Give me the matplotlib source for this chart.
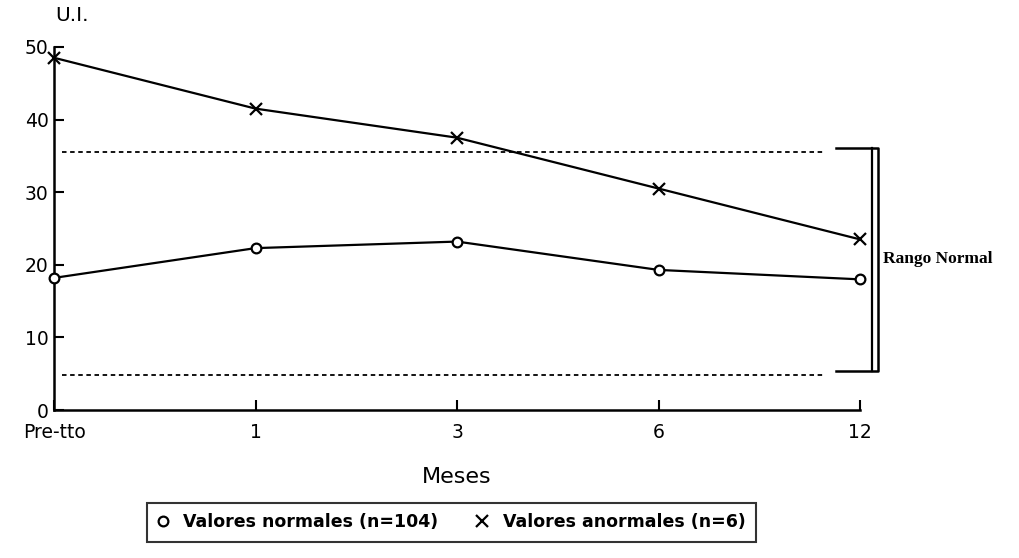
import matplotlib.pyplot as plt

# Data
meses = ["Pre-tto", "1", "3", "6", "12"]
normales = [18.2, 22.3, 23.2, 19.3, 18.0]
anormales = [48.5, 41.5, 37.5, 30.5, 23.5]
rango_bajo = 4.8
rango_alto = 35.5
yticks = [0, 10, 20, 30, 40, 50]

fig = plt.figure(figsize=(10.19, 5.58), dpi=100)
ax = fig.add_axes([0.053, 0.265, 0.791, 0.651])

x = list(range(len(meses)))
ax.plot(x, normales, color="black", lw=1.6, marker="o", ms=7,
        mfc="white", mec="black", mew=1.6, clip_on=False, zorder=3,
        label="Valores normales (n=104)")
ax.plot(x, anormales, color="black", lw=1.6, marker="x", ms=8,
        mew=1.6, clip_on=False, zorder=3,
        label="Valores anormales (n=6)")

# normal range (dashed lines)
ax.hlines([rango_alto, rango_bajo], 0.04, 3.82, colors="black",
          linestyles=(0, (2.5, 2.0)), lw=1.3)

# bracket "Rango Normal"
bx0, bx1 = 3.88, 4.09
ax.plot([bx0, bx1, bx1, bx0], [rango_alto + 0.6, rango_alto + 0.6, rango_bajo + 0.6, rango_bajo + 0.6],
        color="black", lw=1.8, clip_on=False)
ax.plot([bx1 - 0.03, bx1 - 0.03], [rango_alto + 0.6, rango_bajo + 0.6],
        color="black", lw=1.6, clip_on=False)
ax.text(4.115, (rango_alto + rango_bajo) / 2 + 0.6, "Rango Normal",
        family="Liberation Serif", fontweight="bold", fontsize=12.5,
        va="center", ha="left")

ax.set_xlim(0, 4)
ax.set_ylim(0, 50)
ax.set_xticks(x)
ax.set_xticklabels(meses)
ax.set_yticks(yticks)
ax.tick_params(direction="in", length=7, width=1.5, labelsize=13.5, pad=4)
ax.tick_params(axis="x", pad=9)
for s in ["top", "right"]:
    ax.spines[s].set_visible(False)
for s in ["left", "bottom"]:
    ax.spines[s].set_linewidth(1.8)

ax.text(0.002, 1.07, "U.I.", transform=ax.transAxes, fontsize=14.5, ha="left")
ax.set_xlabel("Meses", fontsize=16, labelpad=18)

leg = fig.legend(loc="center", bbox_to_anchor=(0.443, 0.064), ncol=2,
                 frameon=True, fancybox=False, edgecolor="black",
                 prop={"weight": "bold", "size": 12.5}, handlelength=0.6,
                 columnspacing=2.2, borderpad=0.6, handletextpad=0.9)
leg.get_frame().set_linewidth(1.5)
for line in leg.get_lines():
    line.set_linestyle("none")

fig.savefig("out.png", dpi=100)
